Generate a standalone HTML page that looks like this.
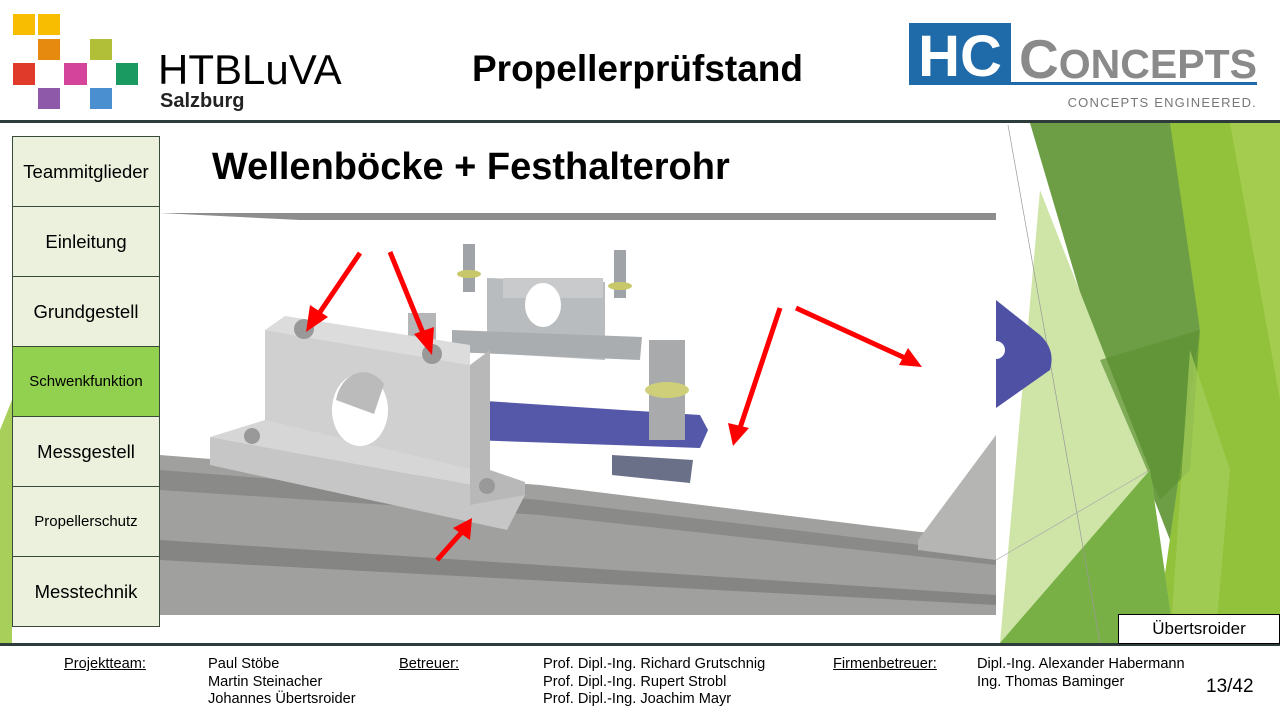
<!DOCTYPE html>
<html><head><meta charset="utf-8"><style>
body{margin:0;width:1280px;height:720px;overflow:hidden;background:#fff;font-family:"Liberation Sans",sans-serif;position:relative}
.a{position:absolute}
.nav{position:absolute;left:12px;width:146px;height:69px;border:1px solid #3a4a3a;background:#ebf1dd;display:flex;align-items:center;justify-content:center;font-size:18.5px;color:#000}
.f{position:absolute;font-size:14.6px;line-height:17.5px;color:#000}
</style></head><body>
<svg class="a" style="left:0;top:0" width="1280" height="720" viewBox="0 0 1280 720">
<rect x="13" y="14" width="22" height="21" fill="#f8bd00"/><rect x="38" y="14" width="22" height="21" fill="#f8bd00"/>
<rect x="38" y="39" width="22" height="21" fill="#e5890f"/><rect x="90" y="39" width="22" height="21" fill="#b1bf38"/>
<rect x="13" y="63" width="22" height="22" fill="#e03a2a"/><rect x="64" y="63" width="23" height="22" fill="#d4449a"/><rect x="116" y="63" width="22" height="22" fill="#1a9a60"/>
<rect x="38" y="88" width="22" height="21" fill="#8e59a8"/><rect x="90" y="88" width="22" height="21" fill="#4a8fd0"/>
<rect x="909" y="23" width="102" height="62" fill="#1f6aa8"/>
<text x="960" y="76" font-size="58" font-weight="bold" fill="#fff" text-anchor="middle" font-family="Liberation Sans">HC</text>
<rect x="1011" y="82" width="246" height="3" fill="#1f6aa8"/>
<text x="1019" y="78" font-size="55" font-weight="bold" fill="#8a8a8a" font-family="Liberation Sans" textLength="238" lengthAdjust="spacingAndGlyphs">C<tspan font-size="41">ONCEPTS</tspan></text>
<text x="1257" y="107" font-size="13" fill="#777" text-anchor="end" letter-spacing="1.2">CONCEPTS ENGINEERED.</text>
<rect x="0" y="120" width="1280" height="3" fill="#2e3c3c"/>
<rect x="0" y="643" width="1280" height="3" fill="#2e3c3c"/>
<polygon points="1030,123 1175,123 1200,330 1170,540 1100,360" fill="#6d9e45"/>
<polygon points="1170,123 1280,123 1280,643 1155,643 1200,330" fill="#92c13b"/>
<polygon points="1230,123 1280,123 1280,400" fill="#a4cd4f"/>
<polygon points="1040,190 1150,470 1175,643 1000,643" fill="#cfe5a8"/>
<polygon points="1100,360 1200,330 1190,470 1160,500" fill="#5c9233" opacity="0.7"/>
<polygon points="1000,643 1150,470 1175,643" fill="#78b046"/>
<polygon points="1190,350 1230,470 1215,643 1170,643" fill="#a7cf5c" opacity="0.7"/>
<line x1="1008" y1="125" x2="1100" y2="643" stroke="#999" stroke-width="0.7"/>
<line x1="996" y1="560" x2="1150" y2="470" stroke="#aaa" stroke-width="0.7"/>
<polygon points="0,430 12,400 12,643 0,643" fill="#a8cf5a"/>
<rect x="160" y="213" width="836" height="402" fill="#fff"/>
<polygon points="160,213 996,213 996,220 300,220" fill="#8d8d8d"/>
<polygon points="160,455 540,485 920,532 996,537 996,615 160,615" fill="#a0a09e"/>
<polygon points="160,470 540,500 920,545 996,550 996,565 540,515 160,490" fill="#8a8a88"/>
<polygon points="160,540 996,595 996,605 160,560" fill="#858583"/>
<polygon points="918,540 996,435 996,560 918,550" fill="#b5b5b3"/>
<path d="M996,300 L1040,335 Q1056,350 1050,370 L996,408 Z" fill="#4f51a5"/>
<circle cx="996" cy="350" r="9" fill="#fff"/>
<polygon points="487,278 605,282 605,360 487,353" fill="#b8bcbe"/>
<polygon points="452,330 642,337 640,360 452,352" fill="#a9adb0"/>
<rect x="503" y="278" width="100" height="20" fill="#c8cacc"/>
<ellipse cx="543" cy="305" rx="18" ry="22" fill="#fff"/>
<rect x="463" y="244" width="12" height="48" fill="#a0a4a8"/><ellipse cx="469" cy="274" rx="12" ry="4" fill="#c8c86a"/>
<rect x="614" y="250" width="12" height="48" fill="#a0a4a8"/><ellipse cx="620" cy="286" rx="12" ry="4" fill="#c8c86a"/>
<rect x="408" y="313" width="28" height="30" fill="#b4b6b8"/>
<polygon points="470,400 700,415 708,430 700,448 470,440" fill="#5558a8"/>
<rect x="649" y="340" width="36" height="100" fill="#a8aaac"/>
<ellipse cx="667" cy="390" rx="22" ry="8" fill="#cfcf7a"/>
<polygon points="612,455 693,460 690,483 612,475" fill="#6a7088"/>
<polygon points="265,330 285,316 470,345 470,365" fill="#dcdcdc"/>
<polygon points="265,330 470,365 470,470 265,440" fill="#d0d0d0"/>
<polygon points="210,437 265,420 525,482 525,495" fill="#d6d6d6"/>
<polygon points="210,437 525,495 507,530 210,465" fill="#c6c6c6"/>
<polygon points="470,365 470,505 525,495 525,482 490,470 490,350" fill="#b8b8b8"/>
<ellipse cx="360" cy="410" rx="28" ry="36" fill="#fff"/>
<path d="M336,400 a28,36 0 0 1 48,-16 l-10,30 z" fill="#bbb"/>
<circle cx="304" cy="329" r="10" fill="#999"/><circle cx="432" cy="354" r="10" fill="#999"/>
<circle cx="252" cy="436" r="8" fill="#999"/><circle cx="487" cy="486" r="8" fill="#999"/>
<g stroke="#f00" stroke-width="5" fill="#f00">
<line x1="360" y1="253" x2="318" y2="315"/><polygon points="306,332 310,305 328,317" stroke="none"/>
<line x1="390" y1="252" x2="425" y2="338"/><polygon points="432,355 414,334 434,327" stroke="none"/>
<line x1="780" y1="308" x2="740" y2="428"/><polygon points="733,446 728,423 749,428" stroke="none"/>
<line x1="796" y1="308" x2="905" y2="358"/><polygon points="922,367 899,365 908,348" stroke="none"/>
<line x1="437" y1="560" x2="462" y2="532"/><polygon points="472,518 470,540 453,528" stroke="none"/>
</g>
</svg>
<div class="a" style="left:158px;top:46px;font-size:42px;color:#000">HTBLuVA</div>
<div class="a" style="left:160px;top:90px;font-size:20px;font-weight:bold;color:#222">Salzburg</div>
<div class="a" style="left:472px;top:48px;font-size:37px;font-weight:bold">Propellerprüfstand</div>
<div class="a" style="left:212px;top:146px;font-size:38px;font-weight:bold">Wellenböcke + Festhalterohr</div>
<div class="nav" style="top:136px">Teammitglieder</div>
<div class="nav" style="top:206px">Einleitung</div>
<div class="nav" style="top:276px">Grundgestell</div>
<div class="nav" style="top:346px;background:#92d050;font-size:15px">Schwenkfunktion</div>
<div class="nav" style="top:416px">Messgestell</div>
<div class="nav" style="top:486px;font-size:15px">Propellerschutz</div>
<div class="nav" style="top:556px">Messtechnik</div>
<div class="a" style="left:1118px;top:614px;width:160px;height:28px;border:1.5px solid #000;background:#fff;font-size:17px;text-align:center;line-height:28px">Übertsroider</div>
<div class="f" style="left:64px;top:656px;text-decoration:underline">Projektteam:</div>
<div class="f" style="left:208px;top:656px">Paul Stöbe<br>Martin Steinacher<br>Johannes Übertsroider</div>
<div class="f" style="left:399px;top:656px;text-decoration:underline">Betreuer:</div>
<div class="f" style="left:543px;top:656px">Prof. Dipl.-Ing. Richard Grutschnig<br>Prof. Dipl.-Ing. Rupert Strobl<br>Prof. Dipl.-Ing. Joachim Mayr</div>
<div class="f" style="left:833px;top:656px;text-decoration:underline">Firmenbetreuer:</div>
<div class="f" style="left:977px;top:656px">Dipl.-Ing. Alexander Habermann<br>Ing. Thomas Baminger</div>
<div class="a" style="left:1206px;top:676px;font-size:19px">13/42</div>
</body></html>
